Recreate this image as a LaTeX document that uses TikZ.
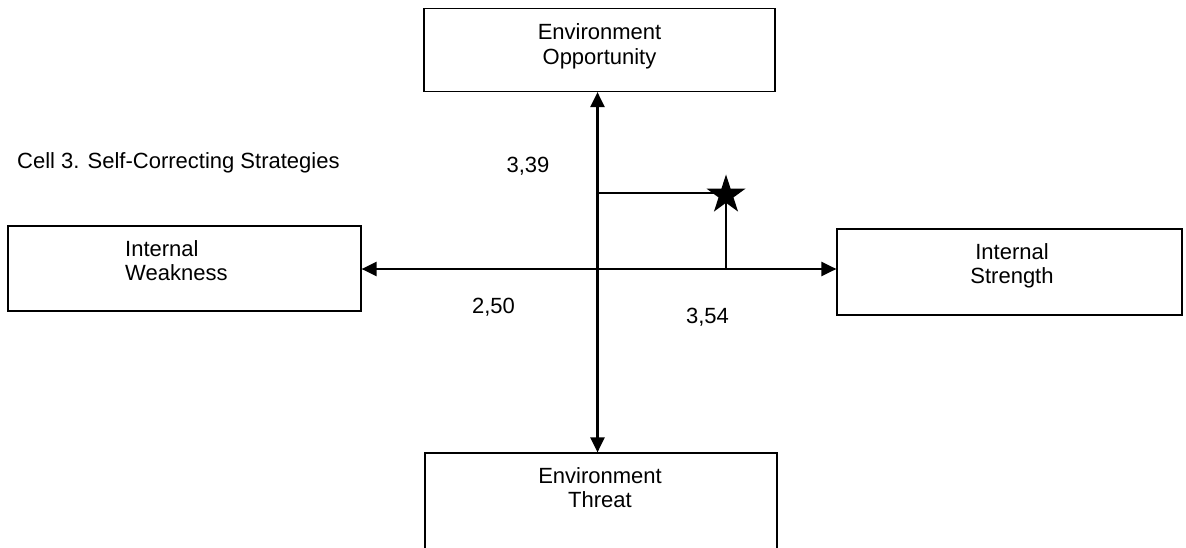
\documentclass[tikz,border=0pt]{standalone}
\usepackage{fontspec}
\setmainfont{Liberation Sans}
\usetikzlibrary{arrows.meta,shapes.geometric}
\begin{document}
\begin{tikzpicture}[x=1pt,y=-1pt,
  box/.style={draw=black,line width=1.2pt,rectangle,inner sep=0pt},
  lbl/.style={inner sep=0pt,font=\fontsize{22}{24.5}\selectfont,align=center},
  axis/.style={line width=2.4pt,{Triangle[length=15pt,width=14pt]}-{Triangle[length=15pt,width=14pt]}},
  guide/.style={line width=2.2pt}]
\useasboundingbox (0,0) rectangle (1186,548);
\clip (0,0) rectangle (1186,548);
% boxes
\node[box,minimum width=351pt,minimum height=83pt] (top) at (599.5,50) {};
\node[box,minimum width=353pt,minimum height=85pt] (left) at (184.5,268.5) {};
\node[box,minimum width=345pt,minimum height=86pt] (right) at (1009.5,272) {};
\node[box,minimum width=352pt,minimum height=120pt] (bot) at (601,513) {};
% box texts (base = baseline of last line)
\node[lbl,anchor=base] (topt) at (599.5,64.5) {Environment\\Opportunity};
\node[lbl,align=left,anchor=base west] (leftt) at (125,280.5) {Internal\\Weakness};
\node[lbl,anchor=base] (rightt) at (1012,283.5) {Internal\\Strength};
\node[lbl,anchor=base] (bott) at (600,507.5) {Environment\\Threat};
% axes
\coordinate (o) at (597.5,269);
\draw[axis] (top.south -| o) -- (bot.north -| o);
\draw[axis] (left.east |- o) -- (right.west |- o);
% star and guides
\node[star,star points=5,star point ratio=2.618,minimum size=41pt,fill=black,inner sep=0pt] (star) at (726,195) {};
\coordinate (gv) at (597.5,193);
\coordinate (gh) at (726,269);
\draw[guide] (gv) -- (gv -| star.center);
\draw[guide] (star.center) -- (gh);
% labels
\node[lbl,anchor=base west] (cell) at (17,169) {Cell 3. Self-Correcting Strategies};
\node[lbl,anchor=base] (v339) at (528,173) {3,39};
\node[lbl,anchor=base] (v250) at (493.5,313) {2,50};
\node[lbl,anchor=base] (v354) at (707.5,323) {3,54};
\end{tikzpicture}
\end{document}
